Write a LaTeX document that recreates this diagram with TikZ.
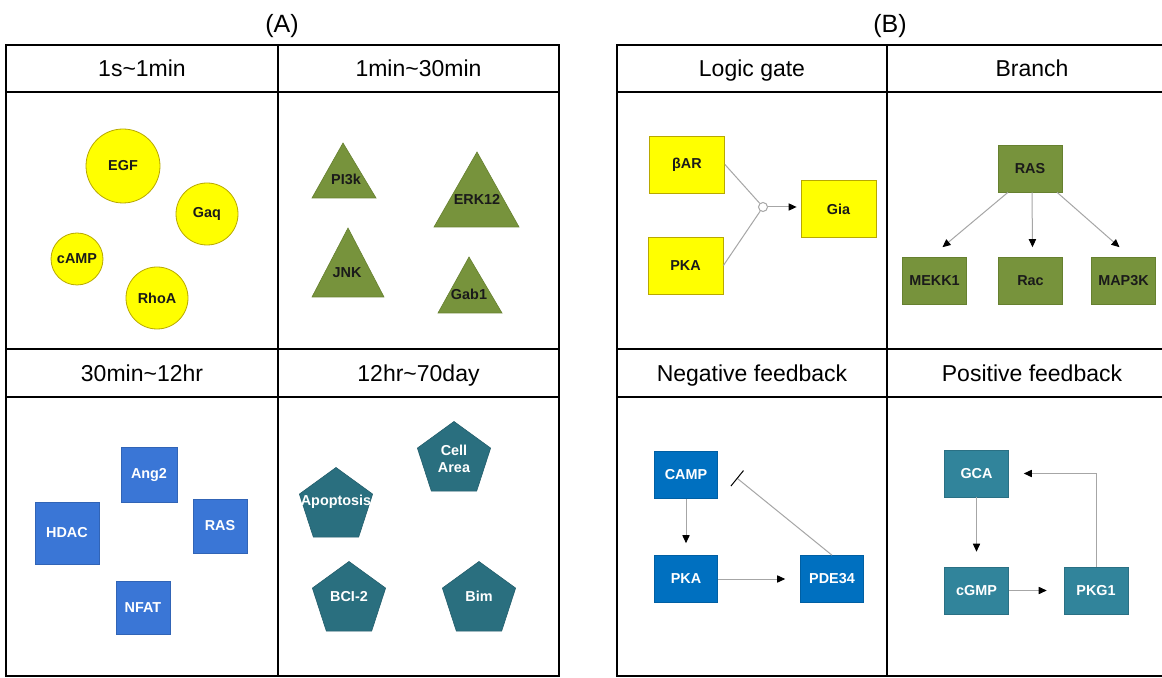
\documentclass[tikz,border=0pt]{standalone}
\usepackage{fontspec}
\setmainfont{Liberation Sans}
\usetikzlibrary{shapes.geometric,arrows.meta}
\definecolor{ylw}{HTML}{FFFF00}
\definecolor{ylwd}{HTML}{B8A800}
\definecolor{grn}{HTML}{77933C}
\definecolor{grnd}{HTML}{66802F}
\definecolor{lblue}{HTML}{3A76D6}
\definecolor{dblue}{HTML}{0070C0}
\definecolor{teal}{HTML}{2A6F7F}
\definecolor{teal2}{HTML}{31849B}
\definecolor{lgray}{HTML}{A6A6A6}
\definecolor{txt}{HTML}{1A1A1A}
\begin{document}
\begin{tikzpicture}[x=0.5pt,y=-0.5pt,
  tbl/.style={line width=1.4pt,draw=black},
  hdr/.style={font=\fontsize{11.5}{13}\selectfont,inner sep=0pt,anchor=base},
  ttl/.style={font=\fontsize{12.5}{14}\selectfont,inner sep=0pt,anchor=base},
  lbl/.style={font=\fontsize{7.2}{8.6}\selectfont\bfseries,text=txt,inner sep=0pt,align=center},
  wlbl/.style={lbl,text=white},
  ycirc/.style={circle,fill=ylw,draw=ylwd,line width=0.4pt,inner sep=0pt,lbl},
  tri/.style={fill=grn,draw=grnd,line width=0.3pt},
  sq/.style={rectangle,inner sep=0pt,line width=0.3pt,wlbl},
  lsq/.style={sq,fill=lblue,draw=lblue!85!black},
  pent/.style={regular polygon,regular polygon sides=5,minimum size=38.5pt,inner sep=0pt,fill=teal,draw=teal!85!black,line width=0.3pt},
  ybox/.style={rectangle,inner sep=0pt,minimum width=37.5pt,minimum height=28.5pt,fill=ylw,draw=ylwd,line width=0.4pt,lbl},
  gbox/.style={rectangle,inner sep=0pt,minimum width=32pt,minimum height=23.5pt,fill=grn,draw=grnd,line width=0.3pt,lbl},
  nbox/.style={sq,minimum width=31.5pt,minimum height=23.5pt,fill=dblue,draw=dblue!85!black},
  pbox/.style={sq,minimum width=32pt,minimum height=23.5pt,fill=teal2,draw=teal2!85!black},
  gate/.style={circle,draw=lgray,fill=white,line width=0.5pt,minimum size=4.5pt,inner sep=0pt},
  conn/.style={draw=lgray,line width=0.5pt},
  arr/.style={conn,-{Triangle[length=4pt,width=3.6pt,color=black]}},
  inh/.style={conn,-{Bar[width=10pt,color=black,line width=0.5pt]}}
]
\clip (0,0) rectangle (1162,678);
\fill[white] (0,0) rectangle (1162,678);

% ---------- Table A ----------
\draw[tbl] (6,45) rectangle (559,676);
\draw[tbl] (278,45) -- (278,676);
\draw[tbl] (6,92) -- (559,92);
\draw[tbl] (6,349) -- (559,349);
\draw[tbl] (6,397) -- (559,397);

% ---------- Table B ----------
\draw[tbl] (617,45) rectangle (1178,676);
\draw[tbl] (887,45) -- (887,676);
\draw[tbl] (617,92) -- (1178,92);
\draw[tbl] (617,349) -- (1178,349);
\draw[tbl] (617,397) -- (1178,397);

% ---------- Titles & headers ----------
\node[ttl] (ta) at (282,33) {(A)};
\node[ttl] (tb) at (890,33) {(B)};
\node[hdr] (h11) at (142,77) {1s\textasciitilde1min};
\node[hdr] (h12) at (418.5,77) {1min\textasciitilde30min};
\node[hdr] (h21) at (142,381.5) {30min\textasciitilde12hr};
\node[hdr] (h22) at (418.5,381.5) {12hr\textasciitilde70day};
\node[hdr] (h31) at (752,77) {Logic gate};
\node[hdr] (h32) at (1032,77) {Branch};
\node[hdr] (h41) at (752,381.5) {Negative feedback};
\node[hdr] (h42) at (1032,381.5) {Positive feedback};

% ---------- A1: circles ----------
\node[ycirc,minimum size=37pt] (egf) at (123,166) {EGF};
\node[ycirc,minimum size=31pt] (gaq) at (207,214) {Gaq};
\node[ycirc,minimum size=26pt] (camp1) at (77,259) {cAMP};
\node[ycirc,minimum size=31pt] (rhoa) at (157,298) {RhoA};

% ---------- A2: triangles ----------
\filldraw[tri] (343,143) -- (376,198) -- (312,198) -- cycle;
\node[lbl] (pi3k) at (346,179) {PI3k};
\filldraw[tri] (477,152) -- (519,227) -- (434,227) -- cycle;
\node[lbl] (erk) at (477,199) {ERK12};
\filldraw[tri] (348,228) -- (384,297) -- (312,297) -- cycle;
\node[lbl] (jnk) at (347,273) {JNK};
\filldraw[tri] (469,257) -- (502,313) -- (438,313) -- cycle;
\node[lbl] (gab) at (469,294) {Gab1};

% ---------- A3: squares ----------
\node[lsq,minimum width=28pt,minimum height=27.5pt] (ang2) at (149,474.5) {Ang2};
\node[lsq,minimum width=32pt,minimum height=31pt] (hdac) at (67,533) {HDAC};
\node[lsq,minimum width=27pt,minimum height=27pt] (ras1) at (220,526) {RAS};
\node[lsq,minimum width=27pt,minimum height=26.5pt] (nfat) at (143,607.5) {NFAT};

% ---------- A4: pentagons ----------
\node[pent] (cella) at (454,460) {};
\node[wlbl] (cellatxt) at (454,459) {Cell\\Area};
\node[pent] (apop) at (336,506) {};
\node[wlbl] (apoptxt) at (336,502) {Apoptosis};
\node[pent] (bcl) at (349,600) {};
\node[wlbl] (bcltxt) at (349,597) {BCI-2};
\node[pent] (bim) at (479,600) {};
\node[wlbl] (bimtxt) at (479,596) {Bim};

% ---------- B1: logic gate ----------
\node[ybox] (bar) at (687,164.5) {βAR};
\node[ybox] (pkal) at (685.5,265.5) {PKA};
\node[ybox] (gia) at (838.5,209) {Gia};
\node[gate] (gate) at (763,207) {};
\draw[conn] (bar.east) -- (gate);
\draw[conn] (pkal.east) -- (gate);
\draw[arr,shorten >=2pt] (gate.east) -- (gate.east -| gia.west);

% ---------- B2: branch ----------
\node[gbox] (ras) at (1030,168.5) {RAS};
\node[gbox] (mekk) at (934.5,281) {MEKK1};
\node[gbox] (rac) at (1030.5,281) {Rac};
\node[gbox] (map) at (1123.5,281) {MAP3K};
\draw[arr] ([xshift=-11pt]ras.south) -- ([xshift=4pt,yshift=5pt]mekk.north);
\draw[arr] ([xshift=1pt]ras.south) -- ([xshift=1pt,yshift=5pt]rac.north);
\draw[arr] ([xshift=13.5pt]ras.south) -- ([xshift=-2pt,yshift=5pt]map.north);

% ---------- B3: negative feedback ----------
\node[nbox] (camp) at (686,475) {CAMP};
\node[nbox] (pkan) at (686,579) {PKA};
\node[nbox] (pde) at (832,579) {PDE34};
\draw[arr,shorten >=6pt] (camp) -- (pkan);
\draw[arr,shorten >=7.5pt] (pkan) -- (pde);
\draw[inh] (pde.north) -- ([xshift=9.5pt,yshift=-1.5pt]camp.east);

% ---------- B4: positive feedback ----------
\node[pbox] (gca) at (976.5,473.5) {GCA};
\node[pbox] (cgmp) at (976.5,590.5) {cGMP};
\node[pbox] (pkg) at (1096,590.5) {PKG1};
\draw[arr,shorten >=7.5pt] (gca) -- (cgmp);
\draw[arr,shorten >=8.5pt] (cgmp) -- (pkg);
\draw[arr,shorten >=7.5pt] (pkg.north) |- (gca.east);
\end{tikzpicture}
\end{document}
